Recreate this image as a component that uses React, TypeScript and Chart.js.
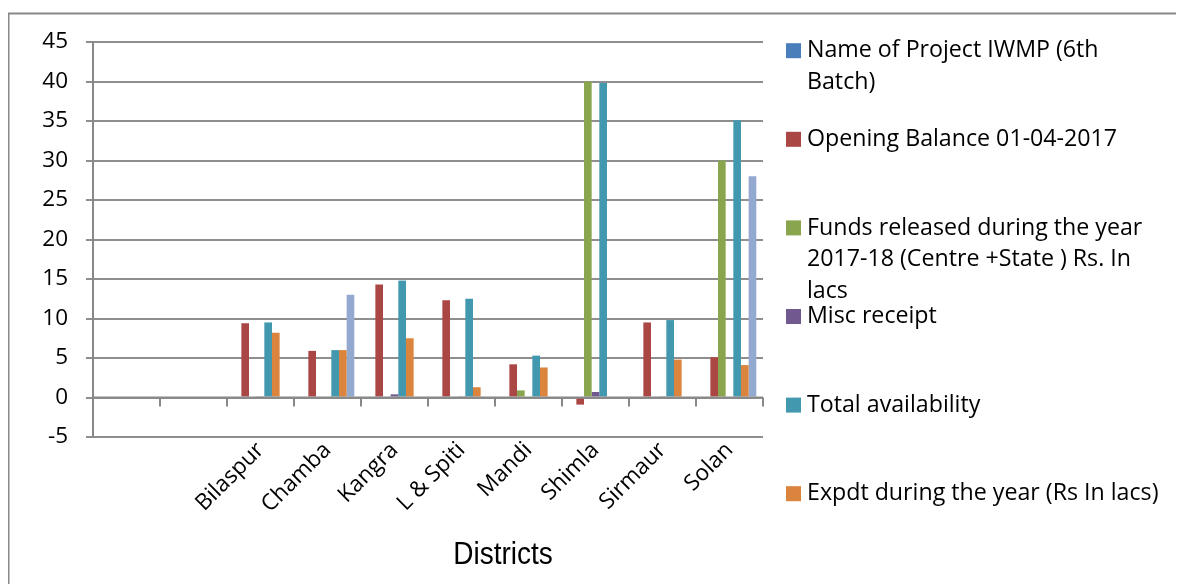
import React, { useEffect, useRef } from 'react';
import { Chart, registerables } from 'chart.js';

Chart.register(...registerables);

const categories = ['', '', 'Bilaspur', 'Chamba', 'Kangra', 'L & Spiti', 'Mandi', 'Shimla', 'Sirmaur', 'Solan'];

const seriesNames = [
  'Name of Project IWMP (6th Batch)',
  'Opening Balance 01-04-2017',
  'Funds released during the year 2017-18 (Centre +State ) Rs. In lacs',
  'Misc receipt',
  'Total availability',
  'Expdt during the year (Rs In lacs)',
  'Closing Balance',
];

const projectName = [null, null, null, null, null, null, null, null, null, null];
const openingBalance = [null, null, 9.4, 5.9, 14.3, 12.3, 4.2, -0.9, 9.5, 5.1];
const fundsReleased = [null, null, 0, 0, 0, 0, 0.9, 40, 0, 30];
const miscReceipt = [null, null, 0.1, 0, 0.4, 0.1, 0, 0.7, 0.1, 0];
const totalAvailability = [null, null, 9.5, 6.0, 14.8, 12.5, 5.3, 39.8, 9.8, 35.1];
const expenditure = [null, null, 8.2, 6.0, 7.5, 1.3, 3.8, 0, 4.8, 4.1];
const closingBalance = [null, null, 0, 13, 0, 0, 0, 0, 0, 28];

const seriesValues = [projectName, openingBalance, fundsReleased, miscReceipt, totalAvailability, expenditure, closingBalance];
const seriesColors = ['#4A7EBB', '#AA4643', '#89A54E', '#71588F', '#4198AF', '#DB843D', '#93A9CF'];

const axisTitle = 'Districts';

const yMin = -5;
const yMax = 45;
const yStep = 5;

const FONT = "'Open Sans', 'DejaVu Sans', sans-serif";

const borderPlugin = {
  id: 'outerBorder',
  beforeDraw(chart: any) {
    const ctx = chart.ctx;
    ctx.save();
    ctx.strokeStyle = '#888888';
    ctx.lineWidth = 2;
    ctx.beginPath();
    ctx.moveTo(0.5, chart.height + 5);
    ctx.lineTo(0.5, 5.5);
    ctx.lineTo(chart.width + 5, 5.5);
    ctx.stroke();
    ctx.restore();
  },
};

const zeroAxisPlugin = {
  id: 'zeroAxis',
  afterDatasetsDraw(chart: any) {
    const ctx = chart.ctx;
    const xs = chart.scales.x;
    const ys = chart.scales.y;
    const y0 = ys.getPixelForValue(0);
    const n = categories.length;
    const step = (xs.right - xs.left) / n;
    ctx.save();
    ctx.strokeStyle = '#888888';
    ctx.lineWidth = 2;
    ctx.beginPath();
    ctx.moveTo(xs.left, y0);
    ctx.lineTo(xs.right, y0);
    for (let i = 0; i <= n; i++) {
      const x = Math.round(xs.left + i * step);
      ctx.moveTo(x, y0);
      ctx.lineTo(x, y0 + 9);
    }
    ctx.stroke();
    ctx.restore();
  },
};

const axisTitlePlugin = {
  id: 'axisTitle',
  afterDraw(chart: any) {
    const ctx = chart.ctx;
    const area = chart.chartArea;
    const cx = (area.left + area.right) / 2 + 75;
    const cy = chart.height - 29;
    ctx.save();
    ctx.translate(cx, cy);
    ctx.scale(1, 1.15);
    ctx.font = "28px 'Liberation Sans', Arial, sans-serif";
    ctx.fillStyle = '#000';
    ctx.textAlign = 'center';
    ctx.textBaseline = 'middle';
    ctx.fillText(axisTitle, 0, 0);
    ctx.restore();
  },
};

const sideLegendPlugin = {
  id: 'sideLegend',
  afterDraw(chart: any) {
    const ctx = chart.ctx;
    const area = chart.chartArea;
    const boxX = area.right + 23;
    const textX = boxX + 21;
    const firstY = area.top + 8.7;
    const entryGap = 88.6;
    const lineH = 31.5;
    const maxW = chart.width - textX - 4;
    ctx.save();
    ctx.font = `23.2px ${FONT}`;
    ctx.textBaseline = 'middle';
    chart.data.datasets.forEach((ds: any, i: number) => {
      const cy = firstY + i * entryGap;
      if (cy + 12 > chart.height) return;
      ctx.fillStyle = ds.backgroundColor;
      ctx.fillRect(boxX, cy - 7.5, 15, 15);
      ctx.fillStyle = '#000';
      const words = String(ds.label).split(' ');
      const lines: string[] = [];
      let cur = '';
      words.forEach((w) => {
        const test = cur ? cur + ' ' + w : w;
        if (ctx.measureText(test).width > maxW && cur) {
          lines.push(cur);
          cur = w;
        } else {
          cur = test;
        }
      });
      if (cur) lines.push(cur);
      lines.forEach((l, k) => ctx.fillText(l, textX, cy + k * lineH));
    });
    ctx.restore();
  },
};

export default function App() {
  const ref = useRef<HTMLCanvasElement | null>(null);
  useEffect(() => {
    if (!ref.current) return;
    const chart = new Chart(ref.current, {
      type: 'bar',
      data: {
        labels: categories,
        datasets: seriesValues.map((vals, i) => ({
          label: seriesNames[i],
          data: vals as any,
          backgroundColor: seriesColors[i],
          borderWidth: 0,
          categoryPercentage: 0.8,
          barPercentage: 1.0,
        })),
      },
      options: {
        animation: false,
        responsive: false,
        layout: { padding: { left: 0, right: 413, top: 34, bottom: 0 } },
        plugins: {
          legend: { display: false },
          tooltip: { enabled: false },
        },
        scales: {
          x: {
            afterFit: (s: any) => { s.height = 147; },
            border: { display: false },
            grid: { display: false, drawOnChartArea: false, drawTicks: false },
            ticks: {
              color: '#000',
              font: { family: FONT, size: 22.5 },
              minRotation: 45,
              maxRotation: 45,
              autoSkip: false,
              padding: 0,
            },
          },
          y: {
            min: yMin,
            max: yMax,
            afterFit: (s: any) => { s.width = 85; },
            border: { display: true, color: '#888888', width: 2 },
            grid: { color: '#8e8e8e', lineWidth: 2, tickLength: 7, drawTicks: true },
            ticks: {
              stepSize: yStep,
              color: '#000',
              font: { family: FONT, size: 22.5 },
              padding: 18,
            },
          },
        },
      },
      plugins: [borderPlugin, zeroAxisPlugin, axisTitlePlugin, sideLegendPlugin],
    });
    return () => chart.destroy();
  }, []);
  return <canvas ref={ref} width={1168} height={576} style={{ display: 'block' }} />;
}
